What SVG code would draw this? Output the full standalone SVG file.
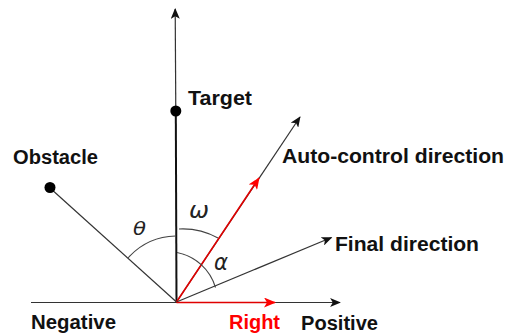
<svg xmlns="http://www.w3.org/2000/svg" width="512" height="336" viewBox="0 0 512 336">
<style>
.lbl{font-family:"Liberation Sans",Arial,sans-serif;font-weight:bold;font-size:20px;fill:#111}
.gr{font-family:"DejaVu Sans","Liberation Sans",sans-serif;font-style:italic;fill:#222}
.ln{stroke:#333;stroke-width:1.2;fill:none}
.red{stroke:#e00000;stroke-width:1.6;fill:none}
.arc{stroke:#444;stroke-width:1.1;fill:none}
</style>
<defs>
<marker id="ab" viewBox="0 0 12 10" refX="11" refY="5" markerWidth="11" markerHeight="9" markerUnits="userSpaceOnUse" orient="auto">
<path d="M0,0 L12,5 L0,10 L3,5 Z" fill="#111"/>
</marker>
<marker id="ar" viewBox="0 0 12 10" refX="11" refY="5" markerWidth="12" markerHeight="10" markerUnits="userSpaceOnUse" orient="auto">
<path d="M0,0 L12,5 L0,10 L3,5 Z" fill="#ff0000"/>
</marker>
</defs>
<g id="connectors">
<line class="ln" x1="31" y1="302.5" x2="340" y2="302.5" marker-end="url(#ab)"/>
<line class="ln" x1="175.8" y1="111" x2="175.2" y2="9" stroke="#555" marker-end="url(#ab)"/>
<line x1="176.5" y1="302" x2="175.8" y2="111" stroke="#111" stroke-width="2"/>
<line class="ln" x1="176.5" y1="302" x2="50" y2="188" stroke="#555"/>
<line class="ln" x1="176.5" y1="302" x2="300" y2="117" marker-end="url(#ab)"/>
<line class="red" x1="176.5" y1="302" x2="259" y2="178" marker-end="url(#ar)"/>
<line class="ln" x1="176.5" y1="302" x2="331.5" y2="237.5" marker-end="url(#ab)"/>
<line class="red" x1="176.5" y1="302.5" x2="275" y2="302.5" marker-end="url(#ar)"/>
<path class="arc" d="M128,258 A66 66 0 0 1 175.5,236"/>
<path class="arc" d="M179,229 A73 73 0 0 1 218,238"/>
<path class="arc" d="M177,252.5 A50 50 0 0 1 215.5,287.5"/>
</g>
<g id="target">
<circle cx="175.8" cy="111" r="5.5" fill="#000"/>
<text class="lbl" x="188" y="105" textLength="64" lengthAdjust="spacingAndGlyphs">Target</text>
</g>
<g id="obstacle">
<circle cx="50" cy="187.5" r="5.5" fill="#000"/>
<text class="lbl" x="13" y="164" textLength="85" lengthAdjust="spacingAndGlyphs">Obstacle</text>
</g>
<g id="auto">
<text class="lbl" x="282" y="163" textLength="222" lengthAdjust="spacingAndGlyphs">Auto-control direction</text>
</g>
<g id="final">
<text class="lbl" x="335" y="251" textLength="144" lengthAdjust="spacingAndGlyphs">Final direction</text>
</g>
<g id="axis-labels">
<text class="lbl" x="31" y="329" textLength="85" lengthAdjust="spacingAndGlyphs">Negative</text>
<text class="lbl" x="229" y="329" textLength="51" lengthAdjust="spacingAndGlyphs" style="fill:#ff0000">Right</text>
<text class="lbl" x="301" y="330" textLength="77" lengthAdjust="spacingAndGlyphs">Positive</text>
</g>
<g id="angles">
<text class="gr" x="133" y="235" font-size="18" textLength="13" lengthAdjust="spacingAndGlyphs">θ</text>
<text class="gr" x="189" y="218" font-size="23" textLength="20" lengthAdjust="spacingAndGlyphs">ω</text>
<text class="gr" x="214" y="270" font-size="23" textLength="14" lengthAdjust="spacingAndGlyphs">α</text>
</g>
</svg>
